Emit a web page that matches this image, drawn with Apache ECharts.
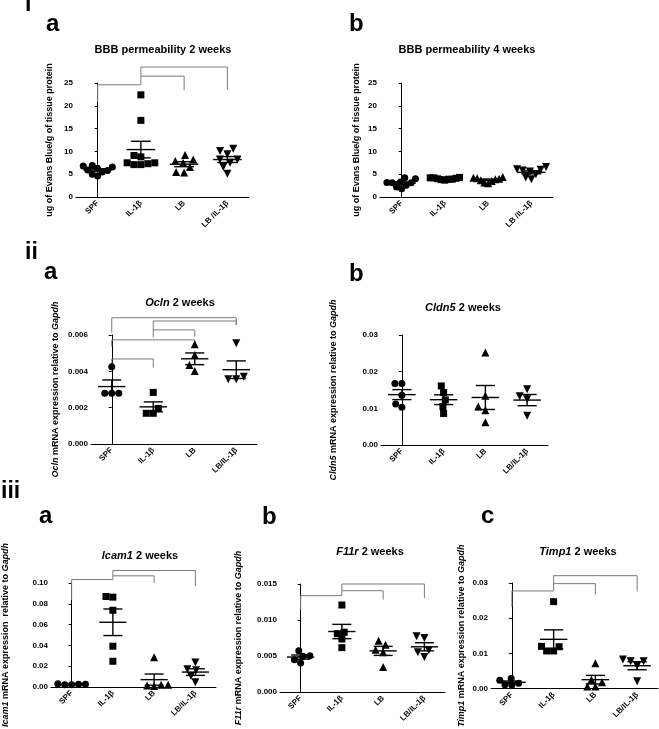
<!DOCTYPE html>
<html><head><meta charset="utf-8">
<script src="https://cdn.jsdelivr.net/npm/echarts@6/dist/echarts.min.js"></script>
<style>html,body{margin:0;padding:0;background:#fff}#c{width:659px;height:729px}</style>
</head><body><div id="c"></div>
<script>
// ---------- categories ----------
const catsBBB = ['SPF', 'IL-1β', 'LB', 'LB /IL-1β'];
const catsGene = ['SPF', 'IL-1β', 'LB', 'LB/IL-1β'];

// ---------- i a : BBB permeability 2 weeks ----------
const bbb2_SPF = [6.9, 6.6, 6.8, 6.3, 5.8, 5.5, 5.9, 4.6, 5.0];
const bbb2_IL1b = [22.4, 16.8, 9.1, 8.8, 7.5, 7.1, 7.1, 7.3, 7.5];
const bbb2_LB = [9.2, 7.5, 7.9, 8.2, 5.4, 5.5, 6.6];
const bbb2_LBIL1b = [10.6, 10.1, 9.4, 8.2, 7.5, 8.2, 5.1, 6.6];
const bbb2_brackets = [[0, 1, 24.6, 20.8, 24.6], [1, 2, 26.5, 24.6, 23.4], [1, 3, 28.5, 26.5, 23.5]];

// ---------- i b : BBB permeability 4 weeks ----------
const bbb4_SPF = [4.2, 4.0, 3.3, 3.1, 3.1, 3.2, 2.6, 1.8, 2.2];
const bbb4_IL1b = [4.3, 4.2, 4.1, 4.0, 3.9, 3.8, 3.7, 4.2, 3.9];
const bbb4_LB = [4.4, 4.2, 4.0, 3.9, 3.7, 3.5, 3.2, 3.0, 4.1];
const bbb4_LBIL1b = [6.6, 6.1, 6.0, 5.8, 5.6, 5.0, 4.3, 3.9];
const bbb_ticks = [0, 5, 10, 15, 20, 25];
const bbb_tickLabels = ['0', '5', '10', '15', '20', '25'];

// ---------- ii a : Ocln ----------
const ocln_SPF = [0.00425, 0.0028, 0.0028, 0.0028];
const ocln_IL1b = [0.00284, 0.00196, 0.00169, 0.00169];
const ocln_LB = [0.00549, 0.0049, 0.00435, 0.00402];
const ocln_LBIL1b = [0.00554, 0.0037, 0.00356, 0.00356];
const ocln_brackets = [[0, 3, 0.00695, 0.00613, 0.00655], [1, 3, 0.00677, 0.00628, 0.00655], [1, 2, 0.00628, 0.00587, 0.00591], [0, 2, 0.00573, 0.00536, 0.00558], [0, 1, 0.00468, 0.00435, 0.0042]];
const ocln_ticks = [0, 0.002, 0.004, 0.006];
const ocln_tickLabels = ['0.000', '0.002', '0.004', '0.006'];

// ---------- ii b : Cldn5 ----------
const cldn5_SPF = [0.0168, 0.0168, 0.0136, 0.0112, 0.0103];
const cldn5_IL1b = [0.0161, 0.0143, 0.0123, 0.0105, 0.0086];
const cldn5_LB = [0.0252, 0.0134, 0.0105, 0.0095, 0.0062];
const cldn5_LBIL1b = [0.0152, 0.0133, 0.0125, 0.0080];
const cldn5_ticks = [0, 0.01, 0.02, 0.03];
const cldn5_tickLabels = ['0.00', '0.01', '0.02', '0.03'];

// ---------- iii a : Icam1 ----------
const icam1_SPF = [0.003, 0.0025, 0.002, 0.0022, 0.0025];
const icam1_IL1b = [0.087, 0.0864, 0.0738, 0.0392, 0.0247];
const icam1_LB = [0.0286, 0.002, 0.001, 0.0015, 0.002];
const icam1_LBIL1b = [0.0235, 0.017, 0.016, 0.0105, 0.0045];
const icam1_brackets = [[0, 1, 0.1033, 0.0837, 0.1033], [1, 2, 0.1069, 0.1033, 0.100], [1, 3, 0.1120, 0.1069, 0.097]];
const icam1_ticks = [0, 0.02, 0.04, 0.06, 0.08, 0.10];
const icam1_tickLabels = ['0.00', '0.02', '0.04', '0.06', '0.08', '0.10'];

// ---------- iii b : F11r ----------
const f11r_SPF = [0.00574, 0.00505, 0.00495, 0.00449, 0.00403];
const f11r_IL1b = [0.01208, 0.0081, 0.0083, 0.00736, 0.00616];
const f11r_LB = [0.00713, 0.00657, 0.00588, 0.00551, 0.00347];
const f11r_LBIL1b = [0.00773, 0.0075, 0.00579, 0.00551, 0.00486];
const f11r_brackets = [[0, 1, 0.01338, 0.01144, 0.01338], [1, 2, 0.01407, 0.01338, 0.01282], [1, 3, 0.0150, 0.01407, 0.01306]];
const f11r_ticks = [0, 0.005, 0.010, 0.015];
const f11r_tickLabels = ['0.000', '0.005', '0.010', '0.015'];

// ---------- iii c : Timp1 ----------
const timp1_SPF = [0.0029, 0.0024, 0.0015, 0.0011, 0.0010];
const timp1_IL1b = [0.0247, 0.0120, 0.0119, 0.0107, 0.0107];
const timp1_LB = [0.0072, 0.0025, 0.0018, 0.0006, 0.0006];
const timp1_LBIL1b = [0.0078, 0.0083, 0.0078, 0.0065, 0.0021];
const timp1_brackets = [[0, 1, 0.02774, 0.02322, 0.02774], [1, 2, 0.02982, 0.02774, 0.02666], [1, 3, 0.03208, 0.02982, 0.02756]];
const timp1_ticks = [0, 0.01, 0.02, 0.03];
const timp1_tickLabels = ['0.00', '0.01', '0.02', '0.03'];

// ---------- layout ----------
const FONT = '"Liberation Sans", Arial, sans-serif';
const panels = [
  { grid: { left: 76, top: 83, width: 173, height: 114 }, cats: catsBBB, groups: [bbb2_SPF, bbb2_IL1b, bbb2_LB, bbb2_LBIL1b], ticks: bbb_ticks, labels: bbb_tickLabels, brackets: bbb2_brackets,
    yName: 'ug of Evans Blue/g of tissue protein', nameGap: 22, title: 'BBB permeability 2 weeks', tx: 163, ty: 50 },
  { grid: { left: 380, top: 83, width: 173, height: 114 }, cats: catsBBB, groups: [bbb4_SPF, bbb4_IL1b, bbb4_LB, bbb4_LBIL1b], ticks: bbb_ticks, labels: bbb_tickLabels, brackets: [],
    yName: 'ug of Evans Blue/g of tissue protein', nameGap: 19, title: 'BBB permeability 4 weeks', tx: 467, ty: 50 },
  { grid: { left: 91, top: 335, width: 166, height: 109 }, cats: catsGene, groups: [ocln_SPF, ocln_IL1b, ocln_LB, ocln_LBIL1b], ticks: ocln_ticks, labels: ocln_tickLabels, brackets: ocln_brackets,
    yName: '{i|Ocln} mRNA expression relative to {i|Gapdh}', nameGap: 31, title: '{i|Ocln} 2 weeks', tx: 180, ty: 303 },
  { grid: { left: 381, top: 335, width: 167, height: 110 }, cats: catsGene, groups: [cldn5_SPF, cldn5_IL1b, cldn5_LB, cldn5_LBIL1b], ticks: cldn5_ticks, labels: cldn5_tickLabels, brackets: [],
    yName: '{i|Cldn5} mRNA expression relative to {i|Gapdh}', nameGap: 43, title: '{i|Cldn5} 2 weeks', tx: 463, ty: 308 },
  { grid: { left: 49, top: 583, width: 167, height: 110 }, cats: catsGene, groups: [icam1_SPF, icam1_IL1b, icam1_LB, icam1_LBIL1b], ticks: icam1_ticks, labels: icam1_tickLabels, brackets: icam1_brackets,
    yName: '{i|Icam1} mRNA expression  relative to {i|Gapdh}', nameGap: 41, title: '{i|Icam1} 2 weeks', tx: 140, ty: 556 },
  { grid: { left: 280, top: 584, width: 165, height: 108 }, cats: catsGene, groups: [f11r_SPF, f11r_IL1b, f11r_LB, f11r_LBIL1b], ticks: f11r_ticks, labels: f11r_tickLabels, brackets: f11r_brackets,
    yName: '{i|F11r} mRNA expression relative to {i|Gapdh}', nameGap: 37, title: '{i|F11r} 2 weeks', tx: 370, ty: 552 },
  { grid: { left: 491, top: 583, width: 167, height: 110 }, cats: catsGene, groups: [timp1_SPF, timp1_IL1b, timp1_LB, timp1_LBIL1b], ticks: timp1_ticks, labels: timp1_tickLabels, brackets: timp1_brackets,
    yName: '{i|Timp1} mRNA expression relative to {i|Gapdh}', nameGap: 25, title: '{i|Timp1} 2 weeks', tx: 578, ty: 552 }
];
const panelLetters = [
  ['i', 25, 16, 23], ['a', 46, 36, 24], ['b', 349, 36, 24],
  ['ii', 25, 264, 23], ['a', 44, 284, 24], ['b', 349, 286, 24],
  ['iii', 1, 503, 23], ['a', 39, 528, 24], ['b', 262, 529, 24], ['c', 481, 528, 24]
];
const symbols = [['circle', 0], ['rect', 0], ['triangle', 0], ['triangle', 180]];
const symSizes = [7, 7, 8, 8];

function stats(a) {
  const n = a.length, m = a.reduce((s, v) => s + v, 0) / n;
  const sd = Math.sqrt(a.reduce((s, v) => s + (v - m) * (v - m), 0) / (n - 1));
  return [m, sd / Math.sqrt(n)];
}
// beeswarm offsets (pixels) so symbols do not overlap, compressed to stay within the column
function swarm(vals, pxPerUnit, size, limit) {
  const order = vals.map((v, i) => i).sort((a, b) => vals[a] - vals[b]);
  const placed = [], off = new Array(vals.length).fill(0);
  order.forEach(i => {
    const y = vals[i] * pxPerUnit;
    const near = placed.filter(p => Math.abs(p.y - y) < size);
    const cands = [0];
    near.forEach(p => { const dx = Math.sqrt(size * size - (p.y - y) * (p.y - y)); cands.push(p.x + dx, p.x - dx); });
    cands.sort((a, b) => Math.abs(a) - Math.abs(b) || a - b);
    const x = cands.find(c => near.every(p => Math.hypot(p.x - c, p.y - y) >= size - 0.01));
    off[i] = x; placed.push({ x, y });
  });
  const mx = Math.max(...off.map(Math.abs));
  if (mx > limit) for (let i = 0; i < off.length; i++) off[i] *= limit / mx;
  return off;
}

const grids = [], xAxes = [], yAxes = [], series = [], graphics = [];
const richI = (fs) => ({ i: { fontStyle: 'italic', fontWeight: 'bold', fontSize: fs, fontFamily: FONT, color: '#000' } });

panels.forEach((p, k) => {
  grids.push(p.grid);
  const ymin = p.ticks[0], ymax = p.ticks[p.ticks.length - 1], step = p.ticks[1] - p.ticks[0];
  xAxes.push({
    type: 'category', gridIndex: k, data: p.cats, boundaryGap: true,
    axisLine: { lineStyle: { color: '#000', width: 1 } },
    axisTick: { alignWithLabel: true, length: 3, lineStyle: { color: '#000' } },
    axisLabel: { rotate: 45, margin: 5, fontSize: 8, fontWeight: 'bold', fontFamily: FONT, color: '#000' },
    splitLine: { show: false }
  });
  xAxes.push({ type: 'value', gridIndex: k, min: -0.5, max: 3.5, show: false, splitLine: { show: false } });
  yAxes.push({
    type: 'value', gridIndex: k, min: ymin, max: ymax, interval: step,
    axisLine: { show: true, lineStyle: { color: '#000', width: 1 } },
    axisTick: { show: true, length: 3, lineStyle: { color: '#000' } },
    axisLabel: {
      margin: 3, fontSize: 8, fontWeight: 'bold', fontFamily: FONT, color: '#000',
      formatter: v => { let bi = 0; p.ticks.forEach((t, i) => { if (Math.abs(t - v) < Math.abs(p.ticks[bi] - v)) bi = i; }); return p.labels[bi]; }
    },
    splitLine: { show: false },
    name: p.yName, nameLocation: 'middle', nameRotate: 90, nameGap: p.nameGap,
    nameTextStyle: { fontSize: 9, fontWeight: 'bold', fontFamily: FONT, color: '#000', rich: richI(9) }
  });
  const pxPerUnit = p.grid.height / (ymax - ymin);
  const catW = p.grid.width / 4;
  const stat = [];
  p.groups.forEach((g, gi) => {
    const off = swarm(g, pxPerUnit, symSizes[gi], 0.34 * catW);
    series.push({
      type: 'scatter', xAxisIndex: 2 * k + 1, yAxisIndex: k,
      symbol: symbols[gi][0], symbolRotate: symbols[gi][1], symbolSize: symSizes[gi],
      itemStyle: { color: '#000', opacity: 1 }, silent: true, z: 3,
      data: g.map((v, i) => [gi + off[i] / catW, v])
    });
    const s = stats(g);
    stat.push([gi, s[0], s[1]]);
  });
  series.push({
    type: 'custom', xAxisIndex: 2 * k + 1, yAxisIndex: k, clip: false, silent: true, z: 4,
    data: stat,
    renderItem: (params, api) => {
      const x = api.value(0), m = api.value(1), se = api.value(2);
      const u = api.size([1, 0])[0];
      const c = api.coord([x, m]), t = api.coord([x, m + se]), b = api.coord([x, m - se]);
      const st = { stroke: '#000', lineWidth: 1.4 };
      const ln = (x1, y1, x2, y2) => ({ type: 'line', shape: { x1, y1, x2, y2 }, style: st });
      return { type: 'group', children: [
        ln(c[0] - 0.33 * u, c[1], c[0] + 0.33 * u, c[1]),
        ln(t[0], t[1], b[0], b[1]),
        ln(t[0] - 0.23 * u, t[1], t[0] + 0.23 * u, t[1]),
        ln(b[0] - 0.23 * u, b[1], b[0] + 0.23 * u, b[1])
      ] };
    }
  });
  if (p.brackets.length) {
    series.push({
      type: 'custom', xAxisIndex: 2 * k + 1, yAxisIndex: k, clip: false, silent: true, z: 2,
      data: p.brackets,
      renderItem: (params, api) => {
        const x1 = api.value(0), x2 = api.value(1), yt = api.value(2), yl = api.value(3), yr = api.value(4);
        return { type: 'polyline', shape: { points: [api.coord([x1, yl]), api.coord([x1, yt]), api.coord([x2, yt]), api.coord([x2, yr])] },
          style: { stroke: '#7a7a7a', lineWidth: 1, fill: null } };
      }
    });
  }
  graphics.push({
    type: 'text', x: p.tx, y: p.ty,
    style: { text: p.title, font: 'bold 11px ' + FONT, fill: '#000', textAlign: 'center', textVerticalAlign: 'middle', rich: richI(11) }
  });
});
panelLetters.forEach(([t, x, y, fs]) => {
  graphics.push({ type: 'text', x, y, style: { text: t, font: 'bold ' + fs + 'px ' + FONT, fill: '#000', textAlign: 'left', textVerticalAlign: 'bottom' } });
});

const chart = echarts.init(document.getElementById('c'), null, { renderer: 'canvas' });
chart.setOption({
  backgroundColor: '#fff', animation: false,
  grid: grids, xAxis: xAxes, yAxis: yAxes, series, graphic: graphics
});
</script>
</body></html>
